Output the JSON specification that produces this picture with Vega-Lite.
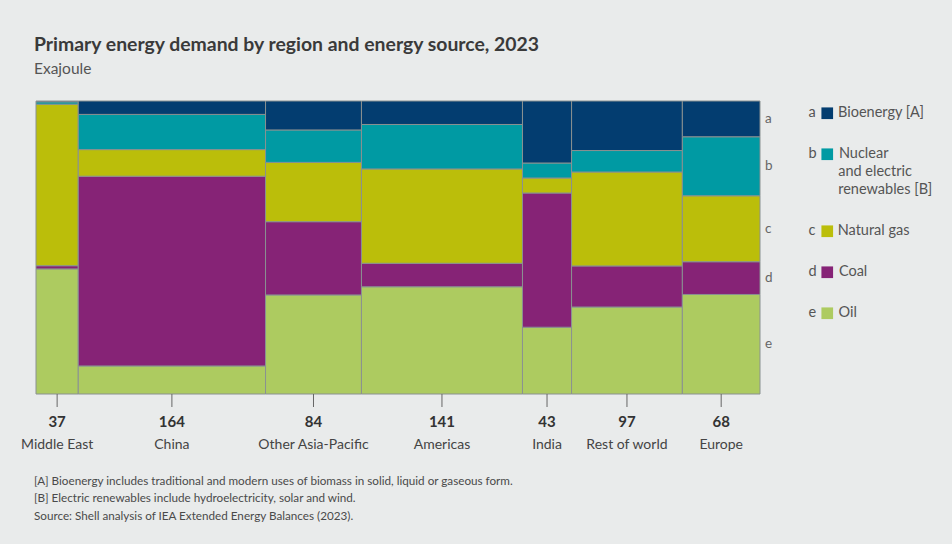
{
  "$schema": "https://vega.github.io/schema/vega-lite/v6.json",
  "width": 724,
  "height": 293,
  "autosize": {"type": "none"},
  "padding": {"left": 36, "top": 101, "right": 192, "bottom": 150},
  "background": "#e9ebeb",
  "title": {
    "text": "Primary energy demand by region and energy source, 2023",
    "subtitle": "Exajoule",
    "anchor": "start",
    "frame": "group",
    "dx": -2,
    "offset": 22,
    "font": "Lato",
    "fontSize": 19.4,
    "fontWeight": "bold",
    "color": "#3a3a3a",
    "subtitleFont": "Lato",
    "subtitleFontSize": 15.5,
    "subtitleColor": "#555555",
    "subtitlePadding": 7
  },
  "config": {"view": {"stroke": null}, "font": "Lato", "style": {"guide-label": {"lineHeight": 18}}},
  "data": {
    "values": [
      {"region": "Middle East", "ro": 1, "source": "Oil", "code": "e", "so": 1, "value": 15.8},
      {"region": "Middle East", "ro": 1, "source": "Coal", "code": "d", "so": 2, "value": 0.4},
      {"region": "Middle East", "ro": 1, "source": "Natural gas", "code": "c", "so": 3, "value": 20.4},
      {"region": "Middle East", "ro": 1, "source": "Nuclear and electric renewables [B]", "code": "b", "so": 4, "value": 0.3},
      {"region": "Middle East", "ro": 1, "source": "Bioenergy [A]", "code": "a", "so": 5, "value": 0.1},
      {"region": "China", "ro": 2, "source": "Oil", "code": "e", "so": 1, "value": 15.7},
      {"region": "China", "ro": 2, "source": "Coal", "code": "d", "so": 2, "value": 106.2},
      {"region": "China", "ro": 2, "source": "Natural gas", "code": "c", "so": 3, "value": 14.9},
      {"region": "China", "ro": 2, "source": "Nuclear and electric renewables [B]", "code": "b", "so": 4, "value": 19.7},
      {"region": "China", "ro": 2, "source": "Bioenergy [A]", "code": "a", "so": 5, "value": 7.5},
      {"region": "Other Asia-Pacific", "ro": 3, "source": "Oil", "code": "e", "so": 1, "value": 28.4},
      {"region": "Other Asia-Pacific", "ro": 3, "source": "Coal", "code": "d", "so": 2, "value": 21.0},
      {"region": "Other Asia-Pacific", "ro": 3, "source": "Natural gas", "code": "c", "so": 3, "value": 17.0},
      {"region": "Other Asia-Pacific", "ro": 3, "source": "Nuclear and electric renewables [B]", "code": "b", "so": 4, "value": 9.3},
      {"region": "Other Asia-Pacific", "ro": 3, "source": "Bioenergy [A]", "code": "a", "so": 5, "value": 8.3},
      {"region": "Americas", "ro": 4, "source": "Oil", "code": "e", "so": 1, "value": 51.6},
      {"region": "Americas", "ro": 4, "source": "Coal", "code": "d", "so": 2, "value": 11.3},
      {"region": "Americas", "ro": 4, "source": "Natural gas", "code": "c", "so": 3, "value": 45.4},
      {"region": "Americas", "ro": 4, "source": "Nuclear and electric renewables [B]", "code": "b", "so": 4, "value": 21.4},
      {"region": "Americas", "ro": 4, "source": "Bioenergy [A]", "code": "a", "so": 5, "value": 11.3},
      {"region": "India", "ro": 5, "source": "Oil", "code": "e", "so": 1, "value": 9.8},
      {"region": "India", "ro": 5, "source": "Coal", "code": "d", "so": 2, "value": 19.7},
      {"region": "India", "ro": 5, "source": "Natural gas", "code": "c", "so": 3, "value": 2.2},
      {"region": "India", "ro": 5, "source": "Nuclear and electric renewables [B]", "code": "b", "so": 4, "value": 2.2},
      {"region": "India", "ro": 5, "source": "Bioenergy [A]", "code": "a", "so": 5, "value": 9.1},
      {"region": "Rest of world", "ro": 6, "source": "Oil", "code": "e", "so": 1, "value": 28.8},
      {"region": "Rest of world", "ro": 6, "source": "Coal", "code": "d", "so": 2, "value": 13.6},
      {"region": "Rest of world", "ro": 6, "source": "Natural gas", "code": "c", "so": 3, "value": 31.1},
      {"region": "Rest of world", "ro": 6, "source": "Nuclear and electric renewables [B]", "code": "b", "so": 4, "value": 7.1},
      {"region": "Rest of world", "ro": 6, "source": "Bioenergy [A]", "code": "a", "so": 5, "value": 16.4},
      {"region": "Europe", "ro": 7, "source": "Oil", "code": "e", "so": 1, "value": 23.1},
      {"region": "Europe", "ro": 7, "source": "Coal", "code": "d", "so": 2, "value": 7.6},
      {"region": "Europe", "ro": 7, "source": "Natural gas", "code": "c", "so": 3, "value": 15.3},
      {"region": "Europe", "ro": 7, "source": "Nuclear and electric renewables [B]", "code": "b", "so": 4, "value": 13.7},
      {"region": "Europe", "ro": 7, "source": "Bioenergy [A]", "code": "a", "so": 5, "value": 8.3}
    ]
  },
  "transform": [
    {"stack": "value", "groupby": [], "sort": [{"field": "ro"}, {"field": "so"}], "as": ["c0", "c1"]},
    {"joinaggregate": [
      {"op": "min", "field": "c0", "as": "x0"},
      {"op": "max", "field": "c1", "as": "x1"},
      {"op": "sum", "field": "value", "as": "total"}
    ], "groupby": ["region"]},
    {"stack": "value", "groupby": ["region"], "sort": [{"field": "so"}], "offset": "normalize", "as": ["y0", "y1"]}
  ],
  "layer": [
    {
      "mark": {"type": "rect", "stroke": "#8a9191", "strokeWidth": 1},
      "encoding": {
        "x": {"field": "x0", "type": "quantitative", "scale": {"nice": false, "zero": true}, "axis": null},
        "x2": {"field": "x1"},
        "y": {"field": "y0", "type": "quantitative", "scale": {"nice": false, "domain": [0, 1]}, "axis": null},
        "y2": {"field": "y1"},
        "color": {
          "field": "source",
          "type": "nominal",
          "scale": {
            "domain": ["Bioenergy [A]", "Nuclear and electric renewables [B]", "Natural gas", "Coal", "Oil"],
            "range": ["#033d70", "#009aa3", "#bbbe0a", "#862376", "#adcb60"]
          },
          "legend": {
            "orient": "right",
            "offset": 41,
            "padding": 5,
            "title": null,
            "symbolType": "square",
            "symbolSize": 136,
            "symbolStrokeWidth": 0,
            "symbolOpacity": 1,
            "symbolOffset": 14,
            "labelOffset": -26,
            "labelFont": "Lato",
            "labelFontSize": 14.5,
            "labelColor": "#555555",
            "labelLimit": 300,
            "rowPadding": 26,
            "labelExpr": "datum.label == 'Bioenergy [A]' ? 'a\u00a0\u00a0\u00a0\u00a0\u00a0\u00a0Bioenergy [A]' : datum.label == 'Natural gas' ? 'c\u00a0\u00a0\u00a0\u00a0\u00a0\u00a0Natural gas' : datum.label == 'Coal' ? 'd\u00a0\u00a0\u00a0\u00a0\u00a0\u00a0Coal' : datum.label == 'Oil' ? 'e\u00a0\u00a0\u00a0\u00a0\u00a0\u00a0Oil' : ['b\u00a0\u00a0\u00a0\u00a0\u00a0\u00a0Nuclear', '\u200b\u00a0\u00a0\u00a0\u00a0\u00a0\u00a0\u00a0\u00a0and electric', '\u200b\u00a0\u00a0\u00a0\u00a0\u00a0\u00a0\u00a0\u00a0renewables [B]']"
          }
        }
      }
    },
    {
      "transform": [
        {"filter": "datum.so == 1"},
        {"fold": ["x0", "x1"], "as": ["k", "xv"]},
        {"aggregate": [{"op": "mean", "field": "xv", "as": "xm"}], "groupby": ["region", "total"]}
      ],
      "layer": [
        {
          "mark": {"type": "rule", "color": "#666666", "strokeWidth": 1, "y2Offset": 13},
          "encoding": {
            "x": {"field": "xm", "type": "quantitative"},
            "y": {"datum": 0},
            "y2": {"datum": 0}
          }
        },
        {
          "mark": {"type": "text", "dy": 28, "fontSize": 15, "fontWeight": "bold", "color": "#333333", "baseline": "middle"},
          "encoding": {
            "x": {"field": "xm", "type": "quantitative"},
            "y": {"datum": 0},
            "text": {"field": "total", "type": "quantitative", "format": ".0f"}
          }
        },
        {
          "mark": {"type": "text", "dy": 51, "fontSize": 14, "color": "#444444", "baseline": "middle"},
          "encoding": {
            "x": {"field": "xm", "type": "quantitative"},
            "y": {"datum": 0},
            "text": {"field": "region", "type": "nominal"}
          }
        }
      ]
    },
    {
      "transform": [
        {"filter": "datum.region == 'Europe'"},
        {"fold": ["y0", "y1"], "as": ["k2", "yv"]},
        {"aggregate": [{"op": "mean", "field": "yv", "as": "ym"}], "groupby": ["code", "x1"]}
      ],
      "mark": {"type": "text", "align": "left", "dx": 5, "fontSize": 13.5, "color": "#666666", "baseline": "middle"},
      "encoding": {
        "x": {"field": "x1", "type": "quantitative"},
        "y": {"field": "ym", "type": "quantitative"},
        "text": {"field": "code", "type": "nominal"}
      }
    },
    {
      "transform": [{"filter": "datum.ro == 1 && datum.so == 1"}],
      "mark": {
        "type": "text",
        "align": "left",
        "baseline": "top",
        "dx": -2,
        "dy": 81.5,
        "fontSize": 11.7,
        "lineHeight": 17.8,
        "color": "#4a4a4a",
        "text": [
          "[A] Bioenergy includes traditional and modern uses of biomass in solid, liquid or gaseous form.",
          "[B]  Electric renewables include hydroelectricity, solar and wind.",
          "Source: Shell analysis of IEA Extended Energy Balances (2023)."
        ]
      },
      "encoding": {
        "x": {"datum": 0},
        "y": {"datum": 0}
      }
    }
  ]
}
